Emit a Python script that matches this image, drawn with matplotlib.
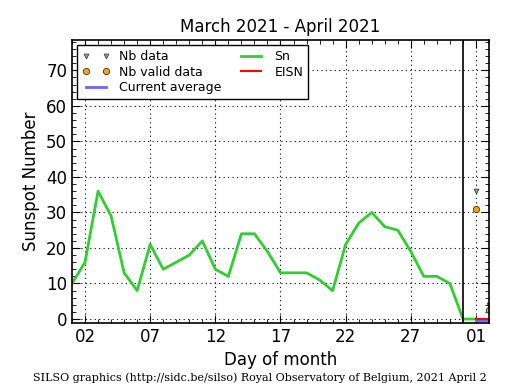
import matplotlib
matplotlib.use("Agg")
import matplotlib.pyplot as plt
import numpy as np

# daily sunspot number, March 2021 (day 1..31) then April 1
sn_days = np.arange(1, 33)
sn_values = [10, 16, 36, 29, 13, 8, 21, 14, 16, 18, 22, 14, 12, 24, 24, 19,
             13, 13, 13, 11, 8, 21, 27, 30, 26, 25, 19, 12, 12, 10, 0, 0]

eisn_days = [32, 33]
eisn_values = [0, 0]

avg_days = [32, 33]
avg_values = [-0.3, -0.3]

nb_days = [32, 33]
nb_data = [36, 4]
nb_valid = [31, 2.5]

tick_pos = [2, 7, 12, 17, 22, 27, 32]
tick_labels = ["02", "07", "12", "17", "22", "27", "01"]

fig = plt.figure(figsize=(5.15, 3.9), dpi=100)
ax = fig.add_axes([0.1398, 0.172, 0.8097, 0.725])

ax.plot(nb_days, nb_data, 'v', color='#999999', mec='#444444', ms=3.5, mew=0.6, label='Nb data')
ax.plot(nb_days, nb_valid, 'o', color='orange', mec='#333333', ms=4.5, mew=0.6, label='Nb valid data')
ax.plot(avg_days, avg_values, '-', color='#6666ff', lw=2, label='Current average')
ax.plot(sn_days, sn_values, '-', color='#33cc33', lw=2, label='Sn')
ax.plot(eisn_days, eisn_values, '-', color='red', lw=1.5, label='EISN')

ax.axvline(31, color='black', lw=1.2)

ax.set_xlim(1, 33)
ax.set_ylim(-1.1, 78.5)
ax.set_xticks(tick_pos)
ax.set_xticklabels(tick_labels)
ax.set_xticks(np.arange(1, 34), minor=True)
ax.set_yticks(np.arange(0, 71, 10))
ax.set_yticks(np.arange(0, 79, 2), minor=True)
ax.tick_params(which='both', direction='in', top=True, right=True, labelsize=12)
ax.tick_params(which='major', length=6)
ax.tick_params(which='minor', length=3)
ax.grid(True, which='major', linestyle=(0, (1, 3)), color='black', lw=0.8)
for s in ax.spines.values():
    s.set_linewidth(1.2)

ax.set_title("March 2021 - April 2021", fontsize=12)
ax.set_xlabel("Day of month", fontsize=12)
ax.set_ylabel("Sunspot Number", fontsize=12)

leg = ax.legend(loc='upper left', ncol=2, numpoints=2, fontsize=9, frameon=True,
                fancybox=False, framealpha=1, borderaxespad=0.4,
                handlelength=2.2, columnspacing=1.2, labelspacing=0.2)
leg.get_frame().set_edgecolor('black')
leg.get_frame().set_linewidth(1.0)

fig.text(0.505, 0.022, "SILSO graphics (http://sidc.be/silso) Royal Observatory of Belgium, 2021 April 2",
         ha='center', fontsize=8, family='DejaVu Serif')

fig.savefig("out.png", dpi=100)
